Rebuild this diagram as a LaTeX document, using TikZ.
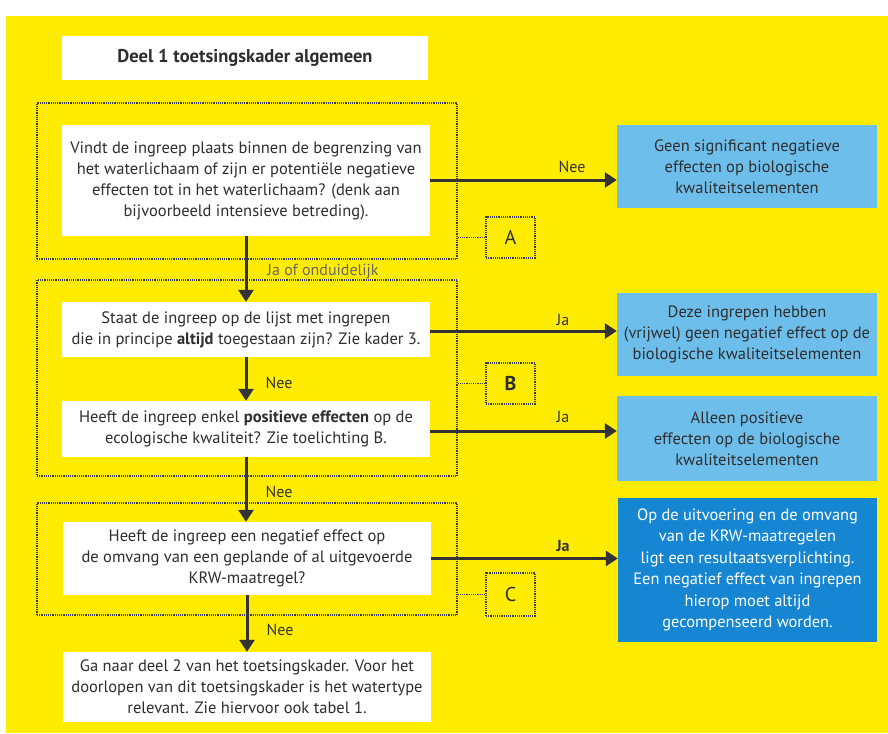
\documentclass[tikz,border=0pt]{standalone}
\usepackage{fontspec}
\setmainfont{PT Sans}
\usetikzlibrary{arrows.meta,calc}
\definecolor{bgyellow}{HTML}{FFEC00}
\definecolor{lightblue}{HTML}{6EBEEB}
\definecolor{darkblue}{HTML}{1786D2}
\definecolor{arrowgray}{HTML}{333333}
\definecolor{txtgray}{HTML}{2E2E2E}
\definecolor{framegray}{HTML}{3A3A50}
\begin{document}
\begin{tikzpicture}[x=1pt,y=-1pt,
  every node/.style={font=\fontsize{16.5}{21}\selectfont, text=txtgray, inner sep=0pt},
  whitebox/.style={fill=white, align=center, minimum width=368pt},
  bluebox/.style={fill=lightblue, align=center, minimum width=260pt},
  darkbox/.style={fill=darkblue, align=center, minimum width=259pt, text=white, font=\fontsize{16.4}{21.5}\selectfont},
  frame/.style={draw=framegray, densely dotted, line width=1.2pt},
  letterbox/.style={draw=framegray, densely dotted, line width=1.2pt, minimum width=49pt, font=\fontsize{20}{22}\selectfont},
  flow/.style={draw=arrowgray, line width=3pt, -{Triangle[length=12pt,width=15pt]}},
  lbl/.style={font=\fontsize{16}{18}\selectfont, text=arrowgray}
]
\useasboundingbox (0,0) rectangle (888,733);
\fill[bgyellow] (6,16) rectangle (888,733);

% title
\node[whitebox, minimum width=366pt, minimum height=44pt, font=\bfseries\fontsize{18.5}{22}\selectfont] (title) at (245,58) {Deel 1 toetsingskader algemeen};

% frames
\node[frame, minimum width=420pt, minimum height=156pt] (frameA) at (247,181) {};
\node[frame, minimum width=420pt, minimum height=196pt] (frameB) at (247,378) {};
\node[frame, minimum width=420pt, minimum height=112pt] (frameC) at (247,559) {};

\node[letterbox, minimum height=41pt] (boxA) at (510.5,237.5) {A};
\node[letterbox, minimum height=41pt] (boxB) at (510.5,383.5) {\bfseries B};
\node[letterbox, minimum height=43pt] (boxC) at (510.5,594.5) {C};

\draw[framegray, densely dotted, line width=1.2pt] (frameA.east |- boxA.west) -- (boxA.west);
\draw[framegray, densely dotted, line width=1.2pt] (frameB.east |- boxB.west) -- (boxB.west);
\draw[framegray, densely dotted, line width=1.2pt] (frameC.east |- boxC.west) -- (boxC.west);

% questions
\node[whitebox, minimum height=111pt] (q1) at (246,180.5) {Vindt de ingreep plaats binnen de begrenzing van\\het waterlichaam of zijn er potentiële negatieve\\effecten tot in het waterlichaam? (denk aan\\bijvoorbeeld intensieve betreding).};
\node[whitebox, minimum height=55pt] (q2) at (246,329.5) {Staat de ingreep op de lijst met ingrepen\\die in principe \textbf{altijd} toegestaan zijn? Zie kader 3.};
\node[whitebox, minimum height=56pt] (q3) at (246,429) {Heeft de ingreep enkel \textbf{positieve effecten} op de\\ecologische kwaliteit? Zie toelichting B.};
\node[whitebox, minimum height=73pt] (q4) at (247,558.5) {Heeft de ingreep een negatief effect op\\de omvang van een geplande of al uitgevoerde\\KRW-maatregel?};
\node[whitebox, minimum height=70pt] (final) at (247,687) {Ga naar deel 2 van het toetsingskader. Voor het\\doorlopen van dit toetsingskader is het watertype\\relevant. Zie hiervoor ook tabel 1.};

% outcomes
\node[bluebox, minimum height=83pt] (b1) at (747,166.5) {Geen significant negatieve\\effecten op biologische\\kwaliteitselementen};
\node[bluebox, minimum height=83pt] (b2) at (747,334.5) {Deze ingrepen hebben\\(vrijwel) geen negatief effect op de\\biologische kwaliteitselementen};
\node[bluebox, minimum height=85pt] (b3) at (747,438.5) {Alleen positieve\\effecten op de biologische\\kwaliteitselementen};
\node[darkbox, minimum height=144pt] (b4) at (747.5,570) {Op de uitvoering en de omvang\\van de KRW-maatregelen\\ligt een resultaatsverplichting.\\Een negatief effect van ingrepen\\hierop moet altijd\\gecompenseerd worden.};

% horizontal arrows
\draw[flow] ($(q1.east)+(0,-0.5)$) -- ($(q1.east -| b1.west)+(0,-0.5)$);
\draw[flow] ($(q2.east)+(0,1.5)$) -- ($(q2.east -| b2.west)+(0,1.5)$);
\draw[flow] ($(q3.east)+(0,2)$) -- ($(q3.east -| b3.west)+(0,2)$);
\draw[flow] (q4.east) -- (q4.east -| b4.west);

% vertical arrows
\draw[flow] (q1.south) -- (q2.north);
\draw[flow] (q2.south) -- (q3.north);
\draw[flow] (q3.south) -- (q3.south |- q4.north);
\draw[flow] (q4.south) -- (final.north);

% labels
\node[lbl] (lnee1) at (572,167) {Nee};
\node[lbl] (lja1) at (563,320) {Ja};
\node[lbl] (lja2) at (563,417) {Ja};
\node[lbl, font=\bfseries\fontsize{16}{18}\selectfont] (lja3) at (563,546) {Ja};
\node[lbl, text=gray!80!black] (londuidelijk) at (323,272) {Ja of onduidelijk};
\node[lbl] (lnee2) at (279,383) {Nee};
\node[lbl] (lnee3) at (279,492) {Nee};
\node[lbl] (lnee4) at (280,630) {Nee};
\end{tikzpicture}
\end{document}
